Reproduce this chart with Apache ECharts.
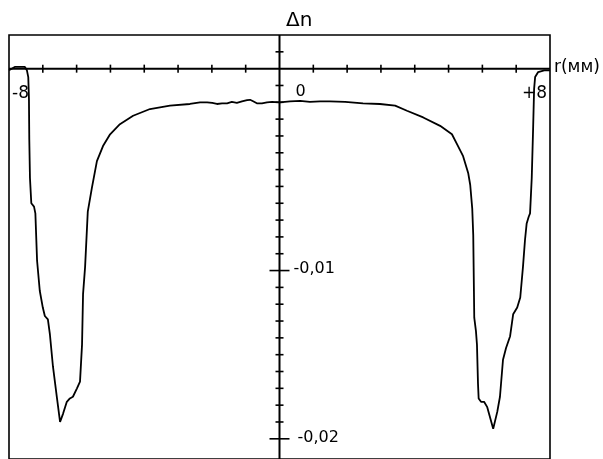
<!DOCTYPE html>
<html><head><meta charset="utf-8">
<script src="https://cdn.jsdelivr.net/npm/echarts@6/dist/echarts.min.js"></script>
<style>html,body{margin:0;padding:0;background:#fff}#c{width:603px;height:459px}</style>
</head><body><div id="c"></div>
<script>
// r (mm) and Δn values of the profile
const rValues = [-8.00,-7.83,-7.65,-7.53,-7.47,-7.43,-7.41,-7.40,-7.38,-7.34,-7.26,-7.22,-7.17,-7.09,-7.00,-6.94,-6.85,-6.79,-6.70,-6.58,-6.49,-6.40,-6.29,-6.20,-6.11,-5.99,-5.90,-5.84,-5.81,-5.75,-5.67,-5.55,-5.40,-5.22,-5.01,-4.72,-4.33,-3.83,-3.24,-2.65,-2.35,-2.14,-1.99,-1.85,-1.70,-1.55,-1.41,-1.26,-1.11,-0.96,-0.87,-0.78,-0.67,-0.52,-0.37,-0.22,0.01,0.31,0.61,0.90,1.20,1.49,1.94,2.47,2.97,3.42,3.77,4.25,4.75,5.10,5.28,5.43,5.58,5.64,5.70,5.73,5.76,5.81,5.84,5.87,5.89,5.96,6.05,6.14,6.32,6.44,6.52,6.61,6.70,6.82,6.91,7.03,7.12,7.20,7.26,7.31,7.37,7.41,7.46,7.50,7.53,7.56,7.65,7.83,8.00];
const dnValues = [0.0019,0.0021,0.0021,0.0021,0.0019,0.0015,0.0002,-0.0022,-0.0045,-0.0060,-0.0062,-0.0066,-0.0094,-0.0112,-0.0122,-0.0127,-0.0129,-0.0138,-0.0157,-0.0176,-0.0190,-0.0185,-0.0178,-0.0176,-0.0175,-0.0170,-0.0166,-0.0144,-0.0114,-0.0098,-0.0065,-0.0051,-0.0035,-0.0026,-0.0019,-0.0013,-0.0008,-0.0004,-0.0002,-0.0001,0.0000,0.0000,-0.00004,-0.0001,-0.00006,-0.00006,0.00002,-0.00003,0.00006,0.00013,0.00015,0.00006,-0.00006,-0.00006,0.0000,0.00002,0.0000,0.00006,0.00008,0.00003,0.00006,0.00005,0.00003,-0.00006,-0.0001,-0.0002,-0.0005,-0.0009,-0.0014,-0.0019,-0.0026,-0.0032,-0.0042,-0.0049,-0.0063,-0.0079,-0.0128,-0.0136,-0.0144,-0.0167,-0.0176,-0.0178,-0.0178,-0.0181,-0.0194,-0.0184,-0.0175,-0.0153,-0.0146,-0.0139,-0.0126,-0.0122,-0.0116,-0.0098,-0.0082,-0.0072,-0.0068,-0.0066,-0.0045,-0.0016,0.0008,0.0015,0.0018,0.0019,0.0019];

const rMin = -8, rMax = 8;
const dnMin = -0.0212, dnMax = 0.004;
const rAxisLevel = 0.002;          // Δn level where the r axis is drawn
const rTicks = [-7,-6,-5,-4,-3,-2,-1,1,2,3,4,5,6,7];
const dnTicks = [0.003,0.001,0,-0.001,-0.002,-0.003,-0.004,-0.005,-0.006,-0.007,-0.008,-0.009,-0.011,-0.012,-0.013,-0.014,-0.015,-0.016,-0.017,-0.018,-0.019];
const dnMajorTicks = [-0.01,-0.02];
const tickLabelTexts = ['-8','+8','0','-0,01','-0,02'];
const tickLabelR = [-8, 8, 0, 0, 0];
const tickLabelDn = [0.002, 0.002, 0, -0.01, -0.02];
const yTitle = 'Δn';
const xTitle = 'r(мм)';

// label placement (pixels) relative to anchor points
const labelPlacement = [
  {dx: 3, dy: 25, align: 'left', size: 17},
  {dx: -3, dy: 25, align: 'right', size: 17},
  {dx: 16, dy: -10, align: 'left', size: 16},
  {dx: 14, dy: -2, align: 'left', size: 16},
  {dx: 18, dy: -1, align: 'left', size: 16}
];
const FONT = '"DejaVu Sans", sans-serif';

const chart = echarts.init(document.getElementById('c'), null, {renderer: 'canvas'});
const curve = rValues.map((r, i) => [r, dnValues[i]]);

function tickSeries(data, len, horizontalAxis) {
  return {
    type: 'custom',
    silent: true,
    data: data,
    encode: {x: 0, y: 1},
    clip: false,
    renderItem: function (params, api) {
      const p = api.coord([api.value(0), api.value(1)]);
      const shape = horizontalAxis
        ? {x1: p[0], y1: p[1] - len, x2: p[0], y2: p[1] + len}
        : {x1: p[0] - len, y1: p[1], x2: p[0] + len, y2: p[1]};
      return {type: 'line', shape: shape, style: {stroke: '#000', lineWidth: 1.6}};
    }
  };
}

const option = {
  backgroundColor: '#fff',
  animation: false,
  title: {
    text: yTitle, left: 281, top: 6,
    textStyle: {fontFamily: FONT, fontSize: 20, fontWeight: 'normal', color: '#000'}
  },
  grid: {left: 9, top: 35, width: 541, height: 428, show: true, borderColor: '#000', borderWidth: 1.6, backgroundColor: 'transparent'},
  xAxis: {type: 'value', min: rMin, max: rMax, show: false},
  yAxis: {type: 'value', min: dnMin, max: dnMax, show: false},
  series: [
    {type: 'line', data: [[rMin, rAxisLevel], [rMax, rAxisLevel]], symbol: 'none', silent: true, lineStyle: {color: '#000', width: 2}},
    {type: 'line', data: [[0, dnMax], [0, dnMin]], symbol: 'none', silent: true, lineStyle: {color: '#000', width: 2}},
    tickSeries(rTicks.map(v => [v, rAxisLevel]), 4, true),
    tickSeries(dnTicks.map(v => [0, v]), 4, false),
    tickSeries(dnMajorTicks.map(v => [0, v]), 10, false),
    {type: 'line', data: curve, symbol: 'none', smooth: false, silent: true, lineStyle: {color: '#000', width: 1.8}},
    {
      type: 'custom', silent: true, clip: false,
      data: tickLabelTexts.map((t, i) => [tickLabelR[i], tickLabelDn[i], i]),
      encode: {x: 0, y: 1},
      renderItem: function (params, api) {
        const i = api.value(2);
        const p = api.coord([api.value(0), api.value(1)]);
        const pl = labelPlacement[i];
        return {type: 'text', x: p[0] + pl.dx, y: p[1] + pl.dy,
          style: {text: tickLabelTexts[i], fill: '#000', font: pl.size + 'px ' + FONT, textAlign: pl.align, textVerticalAlign: 'middle'}};
      }
    },
    {
      type: 'custom', silent: true, clip: false,
      data: [[rMax, rAxisLevel]],
      encode: {x: 0, y: 1},
      renderItem: function (params, api) {
        const p = api.coord([api.value(0), api.value(1)]);
        return {type: 'text', x: p[0] + 4, y: p[1] - 1,
          style: {text: xTitle, fill: '#000', font: '17px ' + FONT, textAlign: 'left', textVerticalAlign: 'middle'}};
      }
    }
  ]
};
chart.setOption(option);
</script>
</body></html>
